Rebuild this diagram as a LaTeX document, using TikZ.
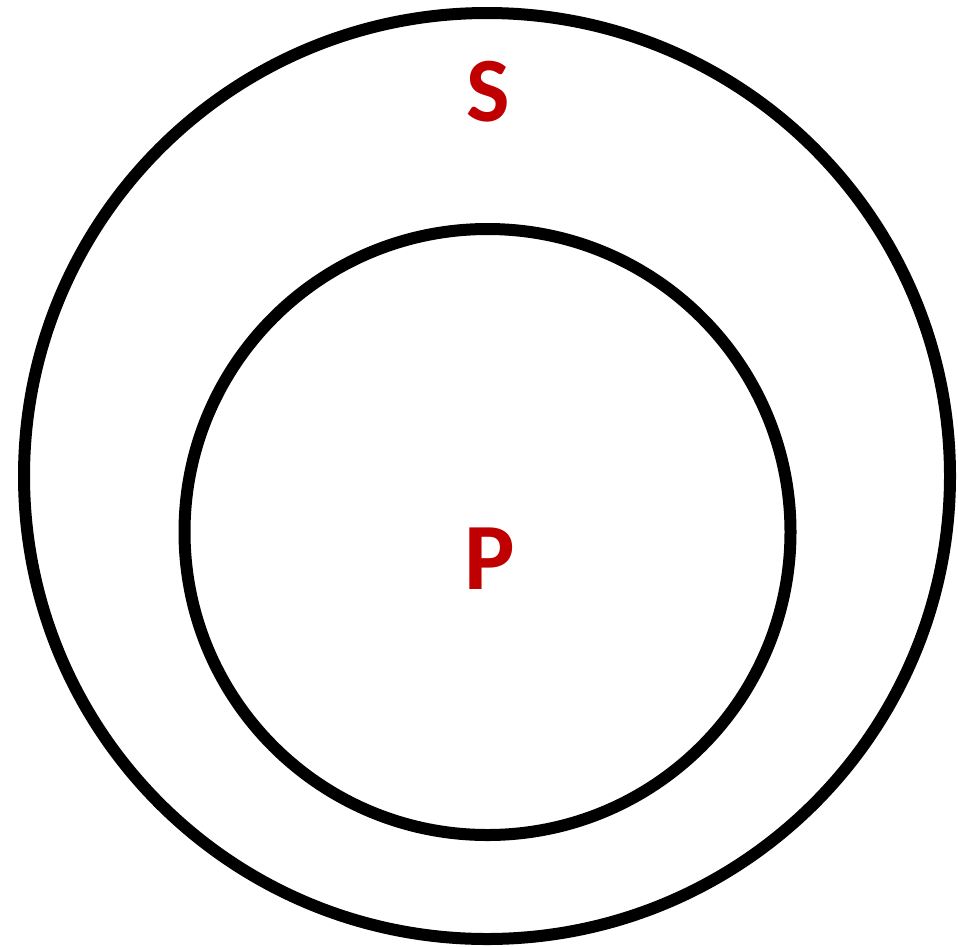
\documentclass[tikz,border=0pt]{standalone}
\usepackage{fontspec}
\setmainfont{Carlito}
\usepackage{xcolor}
\definecolor{setred}{RGB}{192,0,0}
\usetikzlibrary{positioning}

\begin{document}
\begin{tikzpicture}[
  x=1pt, y=-1pt,
  ring/.style={draw=black, line width=12pt},
  lbl/.style={text=setred, font=\bfseries, inner sep=0pt, anchor=center},
]
\useasboundingbox (0,0) rectangle (958,946);
% --- sets ---
\draw[ring] (487,476) circle (463);
\draw[ring] (487.5,532) circle (303);
% --- labels ---
\node[lbl, font=\bfseries\fontsize{92}{92}\selectfont] (s) at (488,92)  {S};
\node[lbl, font=\bfseries\fontsize{95}{95}\selectfont] (p) at (489.5,559) {P};
\end{tikzpicture}
\end{document}
